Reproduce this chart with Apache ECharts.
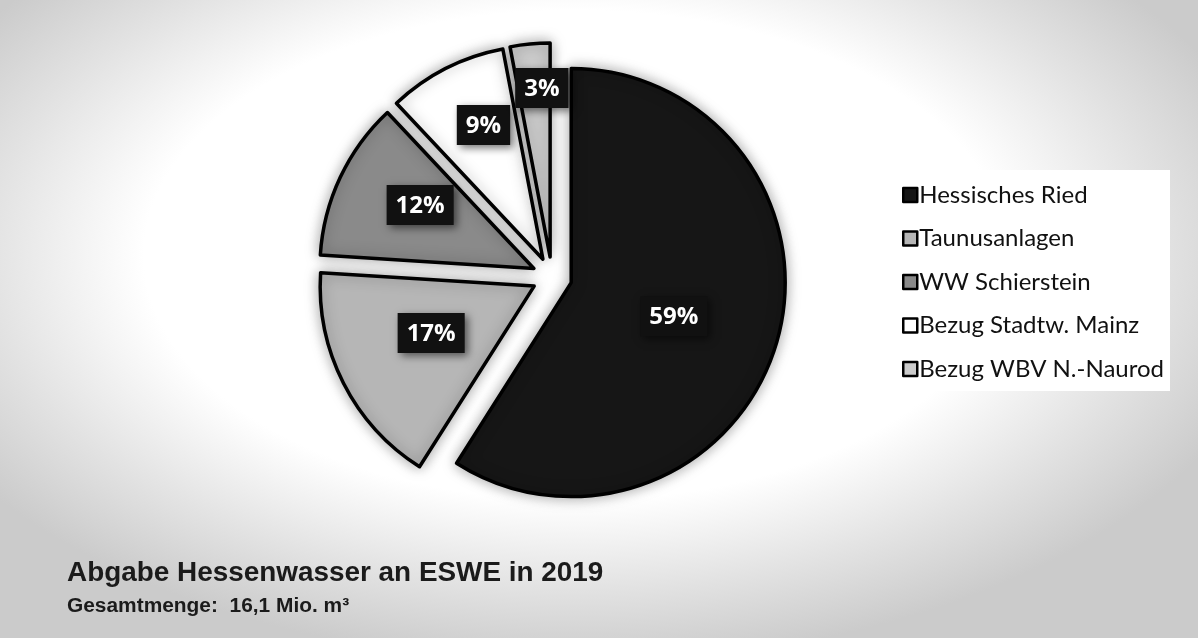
<!DOCTYPE html>
<html>
<head>
<meta charset="utf-8">
<script src="https://cdn.jsdelivr.net/npm/echarts@6/dist/echarts.min.js"></script>
<style>
  html, body { margin: 0; padding: 0; }
  body {
    width: 1198px; height: 638px; overflow: hidden;
    background: radial-gradient(ellipse 60% 64% at 48% 40%, #ffffff 0%, #ffffff 60%, #e2e2e2 82%, #cbcbcb 100%);
  }
  #chart { width: 1198px; height: 638px; }
</style>
</head>
<body>
<div id="chart"></div>
<script>
// ---- data ----
const categories = ['Hessisches Ried', 'Taunusanlagen', 'WW Schierstein', 'Bezug Stadtw. Mainz', 'Bezug WBV N.-Naurod'];
const shares = [59, 17, 12, 9, 3];           // percent
const titleText = 'Abgabe Hessenwasser an ESWE in 2019';
const subtitleText = 'Gesamtmenge:  16,1 Mio. m³';

// ---- styles (kept separate from data) ----
const palette = ['#161616', '#b6b6b6', '#8a8a8a', '#ffffff', '#cbcbcb'];
// label placement tweaks (style only)
const labelPlacement = ['inside', 'inside', 'outside', 'outside', 'outside'];
const labelPad = [[6, 6, 0, 0], [0, 10, 6, 0], [0, 0, 0, 0], [0, 0, 0, 0], [0, 0, 0, 0]];
const leaderLen = [15, 15, -65, -63.4, -44.2];
const leaderLen2 = [15, 15, -54.6, -35.6, -34.4];

const chart = echarts.init(document.getElementById('chart'), null, { renderer: 'canvas' });

const pieData = categories.map((name, i) => ({
  name: name,
  value: shares[i],
  selected: true,
  itemStyle: { color: palette[i] },
  label: { position: labelPlacement[i], padding: labelPad[i] },
  labelLine: { show: false, length: leaderLen[i], length2: leaderLen2[i] }
}));

chart.setOption({
  animation: false,
  backgroundColor: 'transparent',
  title: [
    {
      text: titleText,
      left: 67, top: 559, padding: 0,
      textStyle: { fontFamily: 'Liberation Sans, Arial, sans-serif', fontWeight: 'bold', fontSize: 27.9, color: '#1b1b1b' }
    },
    {
      text: subtitleText,
      left: 67, top: 596, padding: 0,
      textStyle: { fontFamily: 'Liberation Sans, Arial, sans-serif', fontWeight: 'bold', fontSize: 20.9, color: '#1b1b1b' }
    }
  ],
  legend: {
    orient: 'vertical',
    left: 860, top: 170,
    padding: [13, 6, 10, 42],
    backgroundColor: '#ffffff',
    itemWidth: 14, itemHeight: 14,
    itemGap: 19.5,
    icon: 'rect',
    selectedMode: false,
    data: categories,
    itemStyle: { borderColor: '#000', borderWidth: 2.5, shadowBlur: 0 },
    textStyle: { fontFamily: 'Lato, "Open Sans", sans-serif', fontSize: 24, lineHeight: 24, color: '#111', padding: [0, 0, 0, -3] }
  },
  series: [{
    type: 'pie',
    center: [552, 277],
    radius: [0, 214],
    startAngle: 90,
    clockwise: true,
    selectedMode: 'multiple',
    selectedOffset: 20,
    avoidLabelOverlap: false,
    labelLayout: { hideOverlap: false },
    itemStyle: {
      borderColor: '#000', borderWidth: 3.5,
      shadowBlur: 14, shadowColor: 'rgba(0,0,0,0.35)'
    },
    label: {
      show: true,
      formatter: '{v|{c}%}',
      distanceToLabelLine: 0,
      rich: {
        v: {
          color: '#fff',
          fontFamily: '"Open Sans", "Noto Sans", sans-serif',
          fontWeight: 'bold',
          fontSize: 24,
          backgroundColor: '#111',
          padding: [9, 9, 7, 9],
          shadowBlur: 8, shadowColor: 'rgba(0,0,0,0.55)', shadowOffsetX: 3, shadowOffsetY: 3
        }
      }
    },
    emphasis: { disabled: true },
    data: pieData
  }]
});
</script>
</body>
</html>
